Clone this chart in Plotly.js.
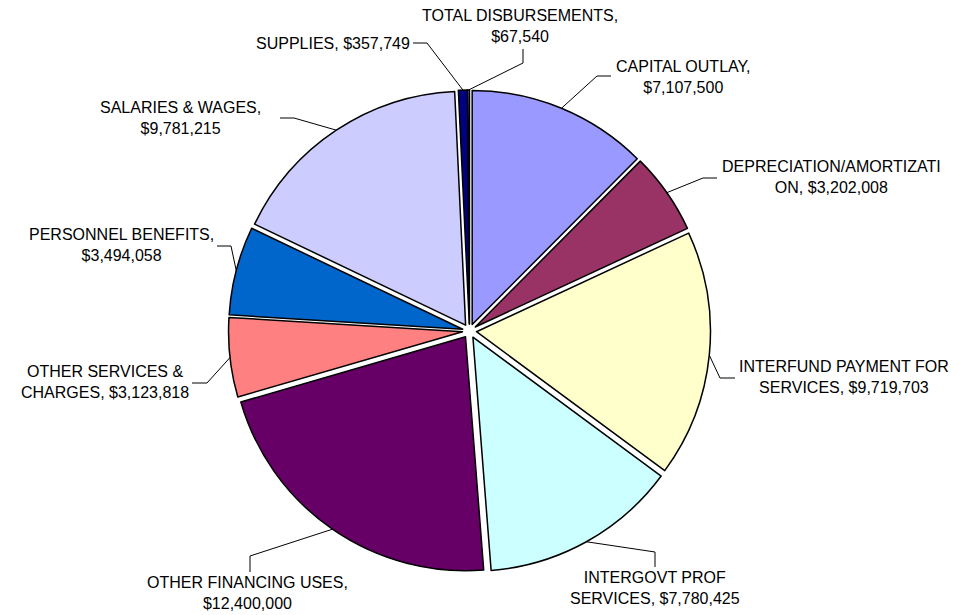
<!DOCTYPE html>
<html>
<head>
<meta charset="utf-8">
<script src="https://cdn.plot.ly/plotly-3.0.1.min.js"></script>
<style>html,body{margin:0;padding:0;background:#fff;}#chart{width:962px;height:615px;}</style>
</head>
<body>
<div id="chart"></div>
<script>
// ---- data ----
const categories = [
  "CAPITAL OUTLAY",
  "DEPRECIATION/AMORTIZATION",
  "INTERFUND PAYMENT FOR SERVICES",
  "INTERGOVT PROF SERVICES",
  "OTHER FINANCING USES",
  "OTHER SERVICES & CHARGES",
  "PERSONNEL BENEFITS",
  "SALARIES & WAGES",
  "SUPPLIES",
  "TOTAL DISBURSEMENTS"
];
const values = [7107500, 3202008, 9719703, 7780425, 12400000, 3123818, 3494058, 9781215, 357749, 67540];
const labelTexts = [
  "CAPITAL OUTLAY,<br>$7,107,500",
  "DEPRECIATION/AMORTIZATI<br>ON, $3,202,008",
  "INTERFUND PAYMENT FOR<br>SERVICES, $9,719,703",
  "INTERGOVT PROF<br>SERVICES, $7,780,425",
  "OTHER FINANCING USES,<br>$12,400,000",
  "OTHER SERVICES &amp;<br>CHARGES, $3,123,818",
  "PERSONNEL BENEFITS,<br>$3,494,058",
  "SALARIES &amp; WAGES,<br>$9,781,215",
  "SUPPLIES, $357,749",
  "TOTAL DISBURSEMENTS,<br>$67,540"
];
const colors = ["#9999FF", "#993366", "#FFFFCC", "#CCFFFF", "#660066", "#FF8080", "#0066CC", "#CCCCFF", "#000080", "#FFFFFF"];

// ---- layout helpers (pixel positions of labels / leader elbows) ----
const W = 962, H = 615;
const CX = 469.5, CY = 331, HALF = 241, PULL = 0.03;
// label centre, elbow point, end point (pixels)
const labelLayout = [
  {tx: 683, ty: 77,  elbow: [597, 76],  end: [611, 76]},
  {tx: 831, ty: 177, elbow: [703, 178], end: [717, 178]},
  {tx: 844, ty: 377, elbow: [720, 378], end: [735, 378]},
  {tx: 655, ty: 588, elbow: [655, 552], end: [655, 567]},
  {tx: 247, ty: 593, elbow: [250, 556], end: [250, 572]},
  {tx: 105, ty: 382, elbow: [207, 383], end: [192, 383]},
  {tx: 121, ty: 245, elbow: [231, 246], end: [217, 246]},
  {tx: 180, ty: 118, elbow: [294, 118], end: [280, 118]},
  {tx: 333, ty: 43,  elbow: [427, 43],  end: [413, 43]},
  {tx: 520, ty: 26,  elbow: [523, 63],  end: [523, 49]}
];

const px = x => x / W;
const py = y => 1 - y / H;

const total = values.reduce((a, b) => a + b, 0);
let cum = 0;
const shapes = [];
const annotations = [];
values.forEach((v, i) => {
  const mid = (cum + v / 2) / total * 2 * Math.PI;
  cum += v;
  const ex = CX + HALF * Math.sin(mid);
  const ey = CY - HALF * Math.cos(mid);
  const L = labelLayout[i];
  shapes.push({
    type: 'path', xref: 'paper', yref: 'paper',
    path: `M ${px(ex)},${py(ey)} L ${px(L.elbow[0])},${py(L.elbow[1])} L ${px(L.end[0])},${py(L.end[1])}`,
    line: {color: '#000000', width: 1}
  });
  annotations.push({
    xref: 'paper', yref: 'paper', x: px(L.tx), y: py(L.ty),
    xanchor: 'center', yanchor: 'middle', showarrow: false, align: 'center',
    text: labelTexts[i],
    font: {family: 'Liberation Sans, Arial, sans-serif', size: 16, color: '#000000'}
  });
});

const trace = {
  type: 'pie',
  labels: categories,
  values: values,
  sort: false,
  direction: 'clockwise',
  rotation: 0,
  pull: values.map(() => PULL),
  marker: {colors: colors, line: {color: '#000000', width: 1.5}},
  textinfo: 'none',
  hoverinfo: 'label+value',
  showlegend: false,
  domain: {x: [px(CX - HALF), px(CX + HALF)], y: [py(CY + HALF), py(CY - HALF)]}
};

Plotly.newPlot('chart', [trace], {
  width: W, height: H,
  margin: {l: 0, r: 0, t: 0, b: 0},
  paper_bgcolor: '#ffffff',
  showlegend: false,
  shapes: shapes,
  annotations: annotations
}, {displayModeBar: false, staticPlot: true});
</script>
</body>
</html>
